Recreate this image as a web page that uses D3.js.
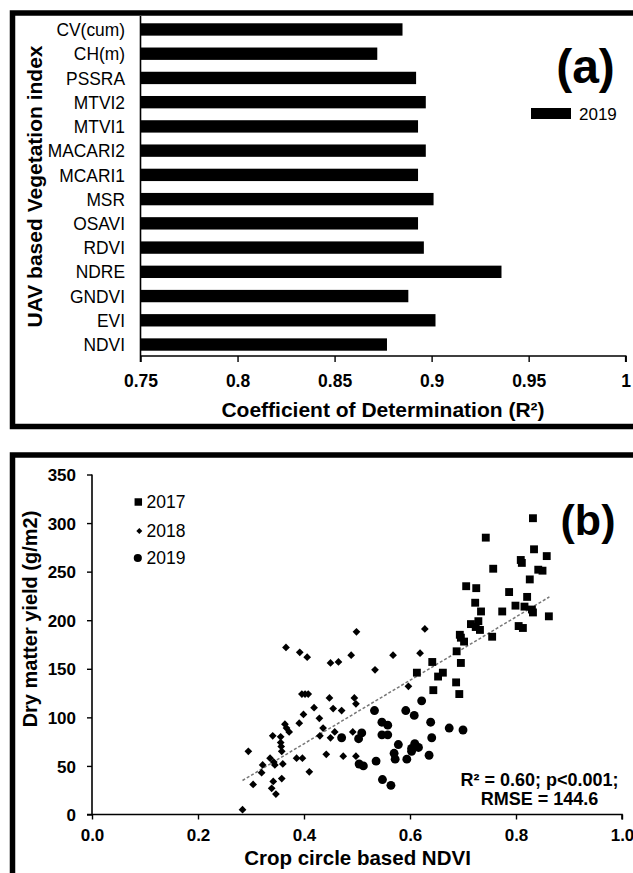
<!DOCTYPE html>
<html><head><meta charset="utf-8">
<script src="https://cdn.jsdelivr.net/npm/d3@7"></script>
<style>
html,body{margin:0;padding:0;background:#fff;}
svg{display:block;}
text{font-family:"Liberation Sans",Arial,sans-serif;fill:#000;}
</style></head>
<body>
<svg id="chart" width="633" height="873"></svg>
<script>
// ---------- Panel (a) data ----------
const indexNames = ["CV(cum)","CH(m)","PSSRA","MTVI2","MTVI1","MACARI2","MCARI1","MSR","OSAVI","RDVI","NDRE","GNDVI","EVI","NDVI"];
const r2_2019 = [0.885,0.872,0.892,0.897,0.893,0.897,0.893,0.901,0.893,0.896,0.936,0.888,0.902,0.877];
const xTicksA = [0.75,0.8,0.85,0.9,0.95,1];
const xTickLabelsA = ["0.75","0.8","0.85","0.9","0.95","1"];

// ---------- Panel (b) data: [NDVI, yield] ----------
const pts2017 = [[0.832,305],[0.743,285],[0.834,273],[0.858,266],[0.809,262],[0.811,259],[0.757,253],[0.842,252],[0.850,251],[0.826,242],[0.706,235],[0.725,233],[0.787,229],[0.821,224],[0.723,218],[0.799,215],[0.816,214],[0.830,211],[0.832,208],[0.774,209],[0.734,209],[0.862,204],[0.715,196],[0.729,199],[0.724,193],[0.732,190],[0.755,183],[0.805,194],[0.813,192],[0.694,185],[0.696,182],[0.702,178],[0.688,168],[0.696,156],[0.642,157],[0.662,146],[0.613,146],[0.653,142],[0.687,136],[0.644,128],[0.693,124]];
const pts2018 = [[0.284,5],[0.295,65],[0.304,31],[0.320,43],[0.322,51],[0.336,58],[0.341,81],[0.339,27],[0.342,34],[0.347,21],[0.345,51],[0.343,54],[0.356,80],[0.356,74],[0.357,70],[0.358,65],[0.360,52],[0.358,37],[0.364,93],[0.367,89],[0.372,85],[0.366,172],[0.392,167],[0.406,162],[0.399,103],[0.391,94],[0.386,58],[0.397,58],[0.396,124],[0.402,124],[0.408,124],[0.410,44],[0.419,110],[0.429,99],[0.430,81],[0.436,89],[0.442,62],[0.448,120],[0.450,156],[0.465,157],[0.455,109],[0.458,85],[0.450,79],[0.471,107],[0.474,60],[0.489,164],[0.492,85],[0.495,120],[0.498,114],[0.498,60],[0.499,188],[0.534,149],[0.568,164],[0.597,132],[0.619,166],[0.628,191]];
const pts2019 = [[0.622,117],[0.533,107],[0.592,107],[0.608,102],[0.547,95],[0.558,92],[0.639,95],[0.674,89],[0.700,87],[0.509,84],[0.503,78],[0.547,82],[0.558,82],[0.641,79],[0.578,72],[0.609,73],[0.603,68],[0.616,69],[0.603,65],[0.570,63],[0.636,61],[0.572,57],[0.594,57],[0.536,55],[0.504,52],[0.512,50],[0.548,36],[0.564,30],[0.471,79]];
const trendEnds = [[0.284,35],[0.863,224]];
const xTicksB = [0,0.2,0.4,0.6,0.8,1.0];
const yTicksB = [0,50,100,150,200,250,300,350];
const legendYears = ["2017","2018","2019"];

const svg = d3.select("#chart");

// ---------- Panel (a) ----------
svg.append("rect").attr("x",12.5).attr("y",13).attr("width",640).attr("height",413.5)
  .attr("fill","none").attr("stroke","#000").attr("stroke-width",5.5);

const xA = d3.scaleLinear().domain([0.75,1]).range([140.5,625.7]);
const yA = d3.scaleBand().domain(indexNames).range([16.5,357.5]).paddingInner(0.49).paddingOuter(0.28);

svg.append("g").selectAll("rect").data(indexNames).join("rect")
  .attr("x",xA(0.75)).attr("y",d=>yA(d))
  .attr("width",(d,i)=>xA(r2_2019[i])-xA(0.75)).attr("height",yA.bandwidth())
  .attr("fill","#000");

// x axis a
const gxA = svg.append("g").attr("transform","translate(0,356)")
  .call(d3.axisBottom(xA).tickValues(xTicksA).tickSize(6).tickFormat((d,i)=>xTickLabelsA[i]));
gxA.select(".domain").attr("stroke","#000").attr("stroke-width",1.6).attr("d",`M${xA(0.75)},0H${xA(1)}V6`);
gxA.selectAll(".tick line").attr("stroke","#000").attr("stroke-width",1.4);
gxA.selectAll(".tick text").attr("font-family","Lato, sans-serif").attr("font-weight","900")
  .attr("font-size",17.5).attr("y",0).attr("dy",null).attr("transform","translate(0,31)");
// y axis a (line only)
svg.append("line").attr("x1",140.5).attr("x2",140.5).attr("y1",16).attr("y2",362)
  .attr("stroke","#000").attr("stroke-width",1.6);
svg.append("g").selectAll("text").data(indexNames).join("text")
  .attr("transform",d=>`translate(125,${yA(d)+yA.bandwidth()/2}) scale(0.94,1)`).attr("dy","0.36em")
  .attr("text-anchor","end").attr("font-size",18.5).text(d=>d);

svg.append("text").attr("x",383).attr("y",417).attr("text-anchor","middle")
  .attr("font-weight","bold").attr("font-size",21).text("Coefficient of Determination (R²)");
svg.append("text").attr("transform","translate(41.5,186.5) rotate(-90)").attr("text-anchor","middle")
  .attr("font-weight","bold").attr("font-size",21).text("UAV based Vegetation index");

svg.append("text").attr("x",585.5).attr("y",83).attr("text-anchor","middle")
  .attr("font-family","Lato, sans-serif").attr("font-weight","bold").attr("font-size",48).text("(a)");
svg.append("rect").attr("x",531).attr("y",108).attr("width",40).attr("height",11).attr("fill","#000");
svg.append("text").attr("x",579).attr("y",113.5).attr("dy","0.36em").attr("font-size",17).text("2019");

// ---------- Panel (b) ----------
svg.append("rect").attr("x",12.5).attr("y",455).attr("width",640).attr("height",430)
  .attr("fill","none").attr("stroke","#000").attr("stroke-width",5.5);

const xB = d3.scaleLinear().domain([0,1]).range([92,622]);
const yB = d3.scaleLinear().domain([0,350]).range([814.5,474.5]);

const gxB = svg.append("g").attr("transform","translate(0,814.5)")
  .call(d3.axisBottom(xB).tickValues(xTicksB).tickSize(5).tickFormat(d3.format(".1f")));
gxB.select(".domain").attr("stroke","#000").attr("stroke-width",1.6).attr("d",`M${xB(0)-5},0H${xB(1)}V5`);
gxB.selectAll(".tick line").attr("stroke","#000").attr("stroke-width",1.4);
gxB.selectAll(".tick text").attr("font-weight","bold").attr("font-size",17)
  .attr("y",0).attr("dy",null).attr("transform","translate(0,26.5)");

const gyB = svg.append("g").attr("transform","translate(92,0)")
  .call(d3.axisLeft(yB).tickValues(yTicksB).tickSize(5).tickFormat(d3.format("d")));
gyB.select(".domain").attr("stroke","#000").attr("stroke-width",1.6).attr("d",`M0,${yB(350)}V${yB(0)}`);
gyB.selectAll(".tick line").attr("stroke","#000").attr("stroke-width",1.4);
gyB.selectAll(".tick text").attr("font-weight","bold").attr("font-size",17).attr("x",-16).attr("dy","0.36em");

svg.append("text").attr("x",357.5).attr("y",865).attr("text-anchor","middle")
  .attr("font-weight","bold").attr("font-size",20.5).text("Crop circle based NDVI");
svg.append("text").attr("transform","translate(37,619) rotate(-90)").attr("text-anchor","middle")
  .attr("font-weight","bold").attr("font-size",20).text("Dry matter yield (g/m2)");

// trend line
svg.append("line")
  .attr("x1",xB(trendEnds[0][0])).attr("y1",yB(trendEnds[0][1]))
  .attr("x2",xB(trendEnds[1][0])).attr("y2",yB(trendEnds[1][1]))
  .attr("stroke","#777").attr("stroke-width",1.5).attr("stroke-dasharray","3,2");

const sq = d3.symbol().type(d3.symbolSquare).size(62);
const dm = d3.symbol().type(d3.symbolSquare).size(30);
const ci = d3.symbol().type(d3.symbolCircle).size(62);

svg.append("g").selectAll("path").data(pts2018).join("path")
  .attr("d",dm).attr("transform",d=>`translate(${xB(d[0])},${yB(d[1])}) rotate(45)`).attr("fill","#000");
svg.append("g").selectAll("path").data(pts2019).join("path")
  .attr("d",ci).attr("transform",d=>`translate(${xB(d[0])},${yB(d[1])})`).attr("fill","#000");
svg.append("g").selectAll("path").data(pts2017).join("path")
  .attr("d",sq).attr("transform",d=>`translate(${xB(d[0])},${yB(d[1])})`).attr("fill","#000");

// legend b
const legY = [502,531,558];
svg.append("path").attr("d",d3.symbol().type(d3.symbolSquare).size(56)()).attr("transform",`translate(138.3,${legY[0]})`);
svg.append("path").attr("d",d3.symbol().type(d3.symbolSquare).size(18)()).attr("transform",`translate(139.3,${legY[1]}) rotate(45)`);
svg.append("path").attr("d",d3.symbol().type(d3.symbolCircle).size(52)()).attr("transform",`translate(137.8,${legY[2]})`);
svg.append("g").selectAll("text").data(legendYears).join("text")
  .attr("x",146.5).attr("y",(d,i)=>legY[i]).attr("dy","0.36em").attr("font-size",17.5).text(d=>d);

svg.append("text").attr("x",588).attr("y",534.5).attr("text-anchor","middle")
  .attr("font-family","Lato, sans-serif").attr("font-weight","bold").attr("font-size",43).text("(b)");

svg.append("text").attr("x",539.5).attr("y",786).attr("text-anchor","middle")
  .attr("font-weight","bold").attr("font-size",18).text("R² = 0.60; p<0.001;");
svg.append("text").attr("x",539.5).attr("y",805).attr("text-anchor","middle")
  .attr("font-weight","bold").attr("font-size",18).text("RMSE = 144.6");
</script>
</body></html>
